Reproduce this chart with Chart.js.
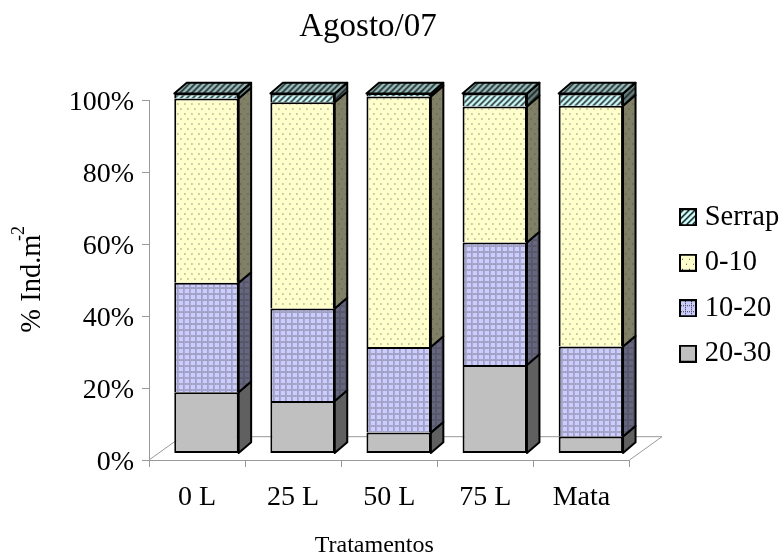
<!DOCTYPE html>
<html>
<head>
<meta charset="utf-8">
<style>
  html, body { margin: 0; padding: 0; background: #fff; }
  canvas { display: block; }
</style>
<script src="https://cdn.jsdelivr.net/npm/chart.js@4/dist/chart.umd.min.js"></script>
</head>
<body>
<canvas id="chart" width="781" height="555"></canvas>
<script>
// DATA
const categories = ["0 L", "25 L", "50 L", "75 L", "Mata"];
const serie2030 = [17.0, 14.6, 5.8, 24.6, 4.7];
const serie1020 = [30.4, 25.7, 23.8, 34.0, 25.0];
const serie010 = [51.2, 57.3, 69.6, 37.8, 66.9];
const serieSerrap = [1.4, 2.4, 0.8, 3.6, 3.4];
const yTicks = [0, 20, 40, 60, 80, 100];

const SERIF = "'Liberation Serif', 'Times New Roman', serif";

// 3D look
const DEPTH_X = 12.5, DEPTH_Y = -10.7;
const SHIFT_X = 9.4, SHIFT_Y = -6.5;
const FLOOR_X = 32.5, FLOOR_Y = -23.3;

// PATTERNS
function tile(base, kind) {
    const c = document.createElement("canvas");
    const g = c.getContext("2d");
    c.width = kind === "dots" ? 7 : 6;
    c.height = kind === "dots" ? 10 : 6;
    g.fillStyle = base;
    g.fillRect(0, 0, c.width, c.height);
    if (kind === "dots") {
        g.fillStyle = "#444";
        g.fillRect(0, 0, 1, 1);
        g.fillRect(3, 5, 1, 1);
    }
    if (kind === "grid") {
        g.fillStyle = "#333";
        for (let i = 0; i < 6; i += 2) {
            g.fillRect(i, 0, 1, 1);
            g.fillRect(0, i, 1, 1);
        }
    }
    if (kind === "hatch") {
        g.strokeStyle = "#111";
        g.lineWidth = 1.5;
        g.beginPath();
        g.moveTo(-1, 7); g.lineTo(7, -1);
        g.moveTo(-1, 1); g.lineTo(1, -1);
        g.moveTo(5, 7); g.lineTo(7, 5);
        g.stroke();
    }
    return c;
}

function pattern(base, kind) {
    const ctx = document.createElement("canvas").getContext("2d");
    return ctx.createPattern(tile(base, kind), "repeat");
}

function legendBox(base, kind) {
    const c = document.createElement("canvas");
    c.width = 18; c.height = 18;
    const g = c.getContext("2d");
    g.fillStyle = kind ? g.createPattern(tile(base, kind), "repeat") : base;
    g.fillRect(0, 0, 18, 18);
    g.strokeStyle = "#000";
    g.lineWidth = 2;
    g.strokeRect(1, 1, 16, 16);
    return c;
}

const looks = [
    { base: "#C0C0C0", side: "#606060", kind: null },
    { base: "#CCCCFF", side: "#666680", kind: "grid" },
    { base: "#FFFFCC", side: "#808066", kind: "dots" },
    { base: "#CCFFFF", side: "#668080", top: "#99BFBF", kind: "hatch" }
];

function fillOf(color, kind) {
    return kind ? pattern(color, kind) : color;
}

// draws floor, bar sides and the top, and shifts the bars onto the floor
const depthPlugin = {
    id: "depth",
    beforeLayout(chart) {
        // room for the legend is fixed, the plot ends at x = 629.5
        const legend = chart.legend;
        if (!legend.fixedFit) {
            const fit = legend.fit;
            legend.fit = function () {
                fit.call(this);
                this.width = 151.5;
            };
            legend.fixedFit = true;
        }
    },
    afterLayout(chart) {
        const l = chart.legend;
        l.left = 668.5;
        l.right = 781;
        l.top = 186;
        l.bottom = 400;
        // the title is not centred on the page in the original
        chart.titleBlock.left = 0;
        chart.titleBlock.right = 736;
        // y labels sit a little below their ticks in the original
        const y = chart.scales.y;
        if (!y.shiftedLabels) {
            const drawLabels = y.drawLabels;
            y.drawLabels = function (area) {
                chart.ctx.save();
                chart.ctx.translate(0, 2.5);
                drawLabels.call(this, area);
                chart.ctx.restore();
            };
            y.shiftedLabels = true;
        }
    },
    beforeDatasetsDraw(chart) {
        const ctx = chart.ctx, a = chart.chartArea;
        ctx.save();
        ctx.strokeStyle = "#999";
        ctx.lineWidth = 1;
        ctx.beginPath();
        ctx.moveTo(a.left, a.bottom);
        ctx.lineTo(a.left + FLOOR_X, a.bottom + FLOOR_Y);
        ctx.lineTo(a.right + FLOOR_X, a.bottom + FLOOR_Y);
        ctx.lineTo(a.right, a.bottom);
        ctx.stroke();
        ctx.restore();

        ctx.save();
        ctx.translate(SHIFT_X, SHIFT_Y);
        ctx.strokeStyle = "#000";
        ctx.lineWidth = 2;
        ctx.lineJoin = "round";
        chart.data.datasets.forEach((ds, i) => {
            const look = looks[i];
            chart.getDatasetMeta(i).data.forEach(bar => {
                const r = bar.x + bar.width / 2;
                ctx.beginPath();
                ctx.moveTo(r, bar.y);
                ctx.lineTo(r + DEPTH_X, bar.y + DEPTH_Y);
                ctx.lineTo(r + DEPTH_X, bar.base + DEPTH_Y);
                ctx.lineTo(r, bar.base);
                ctx.closePath();
                ctx.fillStyle = fillOf(look.side, look.kind);
                ctx.fill();
                ctx.stroke();
                if (look.top) {
                    const l = bar.x - bar.width / 2;
                    ctx.beginPath();
                    ctx.moveTo(l, bar.y);
                    ctx.lineTo(l + DEPTH_X, bar.y + DEPTH_Y);
                    ctx.lineTo(r + DEPTH_X, bar.y + DEPTH_Y);
                    ctx.lineTo(r, bar.y);
                    ctx.closePath();
                    ctx.fillStyle = fillOf(look.top, look.kind);
                    ctx.fill();
                    ctx.stroke();
                }
            });
        });
    },
    afterDatasetsDraw(chart) {
        chart.ctx.restore();
    },
    afterDraw(chart) {
        // superscript of the y title
        const ctx = chart.ctx;
        ctx.save();
        ctx.translate(19, 233.5);
        ctx.rotate(-Math.PI / 2);
        ctx.font = "18px " + SERIF;
        ctx.fillStyle = "#000";
        ctx.textAlign = "center";
        ctx.textBaseline = "middle";
        ctx.fillText("-2", 0, 0);
        ctx.restore();
    }
};

function dataset(label, values, i) {
    return {
        label: label,
        data: values,
        backgroundColor: fillOf(looks[i].base, looks[i].kind),
        borderColor: "#000",
        borderWidth: { left: 2, right: 2, top: 2, bottom: i === 0 ? 2 : 0 },
        borderSkipped: false,
        clip: false,
        barPercentage: 0.67,
        categoryPercentage: 1
    };
}

new Chart(document.getElementById("chart"), {
    type: "bar",
    data: {
        labels: categories,
        datasets: [
            dataset("20-30", serie2030, 0),
            dataset("10-20", serie1020, 1),
            dataset("0-10", serie010, 2),
            dataset("Serrap", serieSerrap, 3)
        ]
    },
    plugins: [depthPlugin],
    options: {
        responsive: false,
        animation: false,
        devicePixelRatio: 1,
        layout: { padding: 0 },
        plugins: {
            tooltip: { enabled: false },
            title: {
                display: true,
                text: "Agosto/07",
                color: "#000",
                font: { family: SERIF, size: 33, weight: "normal" },
                padding: { top: 7.7, bottom: 52.7 }
            },
            legend: {
                position: "right",
                align: "start",
                reverse: true,
                labels: {
                    color: "#000",
                    font: { family: SERIF, size: 28.5 },
                    usePointStyle: true,
                    boxWidth: 5,
                    padding: 17,
                    generateLabels(chart) {
                        return Chart.defaults.plugins.legend.labels.generateLabels(chart).map(item => {
                            const look = looks[item.datasetIndex];
                            item.pointStyle = legendBox(look.base, look.kind);
                            return item;
                        });
                    }
                }
            }
        },
        scales: {
            x: {
                stacked: true,
                afterFit(s) { s.height = 95; },
                border: { display: true, color: "#999" },
                grid: { display: true, drawOnChartArea: false, color: "#999", tickLength: 7 },
                ticks: {
                    color: "#000",
                    font: { family: SERIF, size: 28 },
                    padding: 14,
                    autoSkip: false,
                    maxRotation: 0
                },
                title: {
                    display: true,
                    text: "Tratamentos     ",
                    color: "#000",
                    font: { family: SERIF, size: 24, lineHeight: 0.8 },
                    padding: 0
                }
            },
            y: {
                stacked: true,
                min: 0,
                max: 100,
                afterFit(s) { s.width = 149; },
                afterBuildTicks(s) { s.ticks = yTicks.map(v => ({ value: v })); },
                border: { display: true, color: "#999" },
                grid: { display: true, drawOnChartArea: false, color: "#999", tickLength: 7 },
                ticks: {
                    color: "#000",
                    font: { family: SERIF, size: 28 },
                    padding: 8,
                    callback: v => v + "%"
                },
                title: {
                    display: true,
                    text: "% Ind.m ",
                    color: "#000",
                    font: { family: SERIF, size: 28.5 },
                    padding: { top: 15, bottom: 0 }
                }
            }
        }
    }
});
</script>
</body>
</html>
